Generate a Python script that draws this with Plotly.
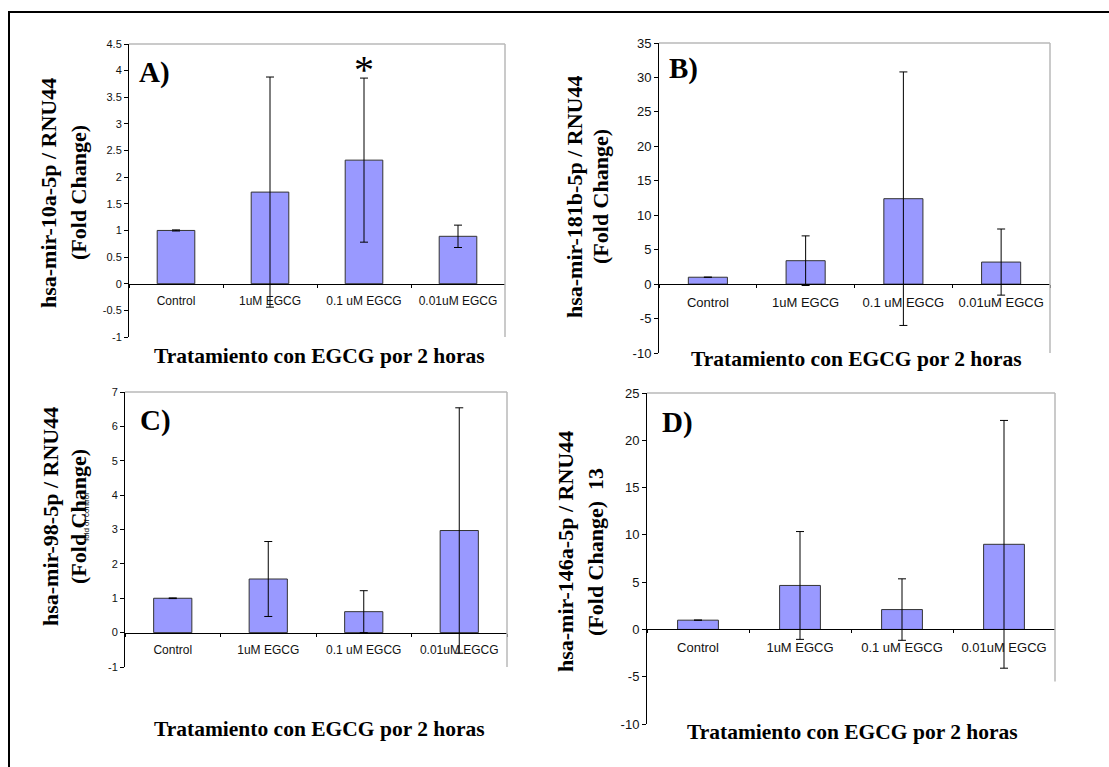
import plotly.graph_objects as go

W, H = 1109, 767

categories = ["Control", "1uM EGCG", "0.1 uM EGCG", "0.01uM EGCG"]

# Panel A: hsa-mir-10a-5p
a_values = [1.0, 1.72, 2.32, 0.89]
a_errors = [0.01, 2.16, 1.54, 0.21]
a_ticks = [-1, -0.5, 0, 0.5, 1, 1.5, 2, 2.5, 3, 3.5, 4, 4.5]
a_ticktext = ["-1", "-0.5", "0", "0.5", "1", "1.5", "2", "2.5", "3", "3.5", "4", "4.5"]

# Panel B: hsa-mir-181b-5p
b_values = [1.0, 3.4, 12.4, 3.2]
b_errors = [0.0, 3.6, 18.4, 4.8]
b_ticks = [-10, -5, 0, 5, 10, 15, 20, 25, 30, 35]
b_ticktext = ["-10", "-5", "0", "5", "10", "15", "20", "25", "30", "35"]

# Panel C: hsa-mir-98-5p
c_values = [1.0, 1.56, 0.61, 2.97]
c_errors = [0.01, 1.09, 0.61, 3.57]
c_ticks = [-1, 0, 1, 2, 3, 4, 5, 6, 7]
c_ticktext = ["-1", "0", "1", "2", "3", "4", "5", "6", "7"]

# Panel D: hsa-mir-146a-5p
d_values = [0.98, 4.65, 2.1, 9.0]
d_errors = [0.0, 5.7, 3.25, 13.1]
d_ticks = [-10, -5, 0, 5, 10, 15, 20, 25]
d_ticktext = ["-10", "-5", "0", "5", "10", "15", "20", "25"]

x_title = "Tratamiento con EGCG por 2 horas"


def px_x(p):
    return p / W


def px_y(p):
    return 1 - p / H


narrow = "Liberation Sans Narrow, Arial Narrow, Arial"
panels = [
    dict(s="", v=a_values, e=a_errors, t=a_ticks, tt=a_ticktext, xp=(129, 505), yp=(44, 337),
         tf=dict(family=narrow, size=12, color="#111"),
         ytf=dict(family=narrow, size=11, color="#111"), L="A)"),
    dict(s="2", v=b_values, e=b_errors, t=b_ticks, tt=b_ticktext, xp=(659, 1050), yp=(43, 353),
         tf=dict(family="Liberation Sans, Arial", size=13, color="#111"),
         ytf=dict(family="Liberation Sans, Arial", size=13, color="#111"), L="B)"),
    dict(s="3", v=c_values, e=c_errors, t=c_ticks, tt=c_ticktext, xp=(125, 507), yp=(392, 667),
         tf=dict(family=narrow, size=12, color="#111"),
         ytf=dict(family=narrow, size=11, color="#111"), L="C)"),
    dict(s="4", v=d_values, e=d_errors, t=d_ticks, tt=d_ticktext, xp=(647, 1055), yp=(393, 724),
         tf=dict(family="Liberation Sans, Arial", size=13, color="#111"),
         ytf=dict(family="Liberation Sans, Arial", size=13, color="#111"), L="D)"),
]

fig = go.Figure()
layout = dict(
    width=W, height=H, margin=dict(l=0, r=0, t=0, b=0, autoexpand=False),
    paper_bgcolor="white", plot_bgcolor="white", showlegend=False,
    bargap=0.6,
)
shapes = []
annotations = []

for p in panels:
    s = p["s"]
    xa = "x" + s
    ya = "y" + s
    fig.add_trace(go.Bar(
        x=categories, y=p["v"], xaxis=xa, yaxis=ya,
        marker=dict(color="#9999FF", line=dict(color="#333333", width=1)),
        error_y=dict(type="data", array=p["e"], visible=True, color="black", thickness=1, width=4),
    ))
    ymin, ymax = p["t"][0], p["t"][-1]
    y0 = px_y(p["yp"][1])
    y1 = px_y(p["yp"][0])
    zero_pos = y0 + (0 - ymin) / (ymax - ymin) * (y1 - y0)
    layout["xaxis" + s] = dict(
        domain=[px_x(p["xp"][0]), px_x(p["xp"][1])], anchor="free", position=zero_pos,
        type="category", showline=True, linecolor="black", linewidth=1,
        ticks="outside", tickson="boundaries", ticklen=3, tickcolor="black",
        tickfont=p["tf"], ticklabelstandoff=6, showgrid=False, zeroline=False,
        fixedrange=True, automargin=False,
    )
    layout["yaxis" + s] = dict(
        domain=[y0, y1], anchor=xa, range=[ymin, ymax],
        tickvals=p["t"], ticktext=p["tt"], showline=True, linecolor="black", linewidth=1,
        ticks="outside", ticklen=4, tickcolor="black", tickfont=p["ytf"],
        showgrid=False, zeroline=False, fixedrange=True, automargin=False,
    )
    shapes.append(dict(type="line", xref=xa + " domain", yref=ya + " domain",
                       x0=0, x1=1, y0=1, y1=1, line=dict(color="#b8b8b8", width=1.5)))
    shapes.append(dict(type="line", xref=xa + " domain", yref=ya,
                       x0=1, x1=1, y0=(-5.5 if s == "4" else ymin), y1=ymax,
                       line=dict(color="#b8b8b8", width=1.5)))

# outer frame
shapes.append(dict(type="rect", xref="paper", yref="paper",
                   x0=px_x(9), x1=1.02, y0=-0.02, y1=px_y(12),
                   line=dict(color="black", width=2)))

serif = "Liberation Serif, Times New Roman, serif"
xt_font = dict(family=serif, size=21.5, color="black")
yt_font = dict(family=serif, size=22, color="black")


def ann(text, x, y, font, angle=0):
    annotations.append(dict(text=text, xref="paper", yref="paper", x=px_x(x), y=px_y(y),
                            xanchor="center", yanchor="middle", showarrow=False,
                            textangle=angle, font=font))


# Panel letters
for txt, x, y in [("A)", 154, 72), ("B)", 683, 68), ("C)", 155, 420), ("D)", 677, 422)]:
    ann("<b>%s</b>" % txt, x, y, dict(family=serif, size=29, color="black"))

# significance star (above the 0.1 uM bar)
annotations.append(dict(text="*", xref="x", yref="y", x="0.1 uM EGCG", y=4.1, showarrow=False,
                        xanchor="center", yanchor="middle",
                        font=dict(family=serif, size=40, color="black"), yshift=-4))

# x titles
for x, y in [(319, 356), (856, 359), (319, 729), (852, 732)]:
    ann("<b>%s</b>" % x_title, x, y, xt_font)

# y titles (two lines each)
ytitles = [
    ("hsa-mir-10a-5p / RNU44", "(Fold Change)", 48, 78, 193),
    ("hsa-mir-181b-5p / RNU44", "(Fold Change)", 575, 601, 197),
    ("hsa-mir-98-5p / RNU44", "(Fold Change)", 50, 78, 517),
    ("hsa-mir-146a-5p / RNU44", "(Fold Change)  13", 565, 595, 552),
]
for l1, l2, x1, x2, yc in ytitles:
    ann("<b>%s</b>" % l1, x1, yc, yt_font, -90)
    ann("<b>%s</b>" % l2, x2, yc, yt_font, -90)

# overlapping small subscript text in panel C
ann("fold of control", 86, 517, dict(family="Liberation Sans, Arial", size=8, color="black"), -90)

layout["shapes"] = shapes
layout["annotations"] = annotations
fig.update_layout(**layout)
fig.write_html("out.html")
